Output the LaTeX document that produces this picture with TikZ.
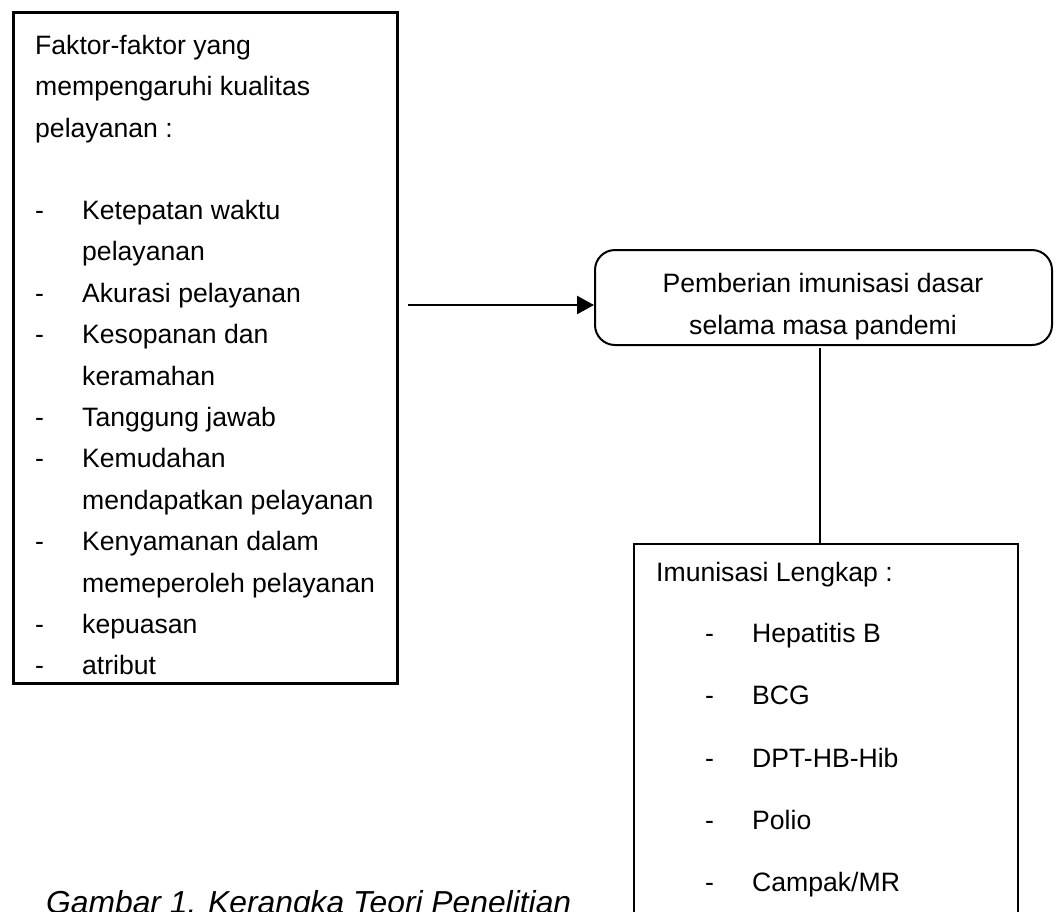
\documentclass[tikz,border=0pt]{standalone}
\usepackage{fontspec}
\setmainfont{Liberation Sans}
\usetikzlibrary{arrows.meta}
\begin{document}
\begin{tikzpicture}[x=1pt,y=-1pt,
  txt/.style={anchor=base west,inner sep=0pt,font=\fontsize{26.6}{30}\selectfont},
  ctxt/.style={anchor=base,inner sep=0pt,font=\fontsize{26.6}{30}\selectfont},
  sqbox/.style={draw,rectangle,inner sep=0pt},
  rbox/.style={draw,rectangle,rounded corners=20pt,inner sep=0pt,line width=2pt},
  conn/.style={line width=1.6pt}]
\useasboundingbox (0,0) rectangle (1059,911);
\clip (0,0) rectangle (1059,911);
% left box
\node[sqbox,line width=3pt,minimum width=384pt,minimum height=671pt] (lb) at (205,347.5) {};
\node[txt] (l1) at (35,54) {Faktor-faktor yang};
\node[txt] (l2) at (35,95.5) {mempengaruhi kualitas};
\node[txt] (l3) at (35,137) {pelayanan :};
\foreach \y/\t [count=\i] in {219/{Ketepatan waktu}, 302/{Akurasi pelayanan}, 343/{Kesopanan dan}, 426/{Tanggung jawab}, 467/{Kemudahan}, 550/{Kenyamanan dalam}, 633/{kepuasan}, 674/{atribut}}{
  \node[txt] (d\i) at (35,\y) {-};
  \node[txt] (i\i) at (82,\y) {\t};
}
\node[txt] (c1) at (82,260) {pelayanan};
\node[txt] (c2) at (82,385) {keramahan};
\node[txt] (c3) at (82,509) {mendapatkan pelayanan};
\node[txt] (c4) at (82,592) {memeperoleh pelayanan};
% rounded box
\node[rbox,minimum width=457pt,minimum height=95pt] (rb) at (823.5,297.5) {};
\node[ctxt] (r1) at (823,292) {Pemberian imunisasi dasar};
\node[ctxt] (r2) at (823,334) {selama masa pandemi};
% right box
\node[sqbox,line width=2pt,minimum width=384pt,minimum height=420pt] (ib) at (826,754) {};
\node[txt] (m0) at (656,581) {Imunisasi Lengkap :};
\foreach \y/\t [count=\i] in {642/{Hepatitis B}, 704/{BCG}, 767/{DPT-HB-Hib}, 829/{Polio}, 891/{Campak/MR}}{
  \node[txt] (md\i) at (705,\y) {-};
  \node[txt] (mi\i) at (752,\y) {\t};
}
% connectors
\coordinate (a1) at (408,305);
\draw[line width=2.4pt,-{Triangle[length=17pt,width=18pt]}] (a1) -- (a1 -| rb.west);
\coordinate (v1) at (820,348);
\draw[conn] (v1) -- (v1 |- ib.north);
% caption
\node[txt,font=\fontsize{31.8}{36}\selectfont\itshape] (cap) at (46,913) {Gambar 1. Kerangka Teori Penelitian};
\end{tikzpicture}
\end{document}
